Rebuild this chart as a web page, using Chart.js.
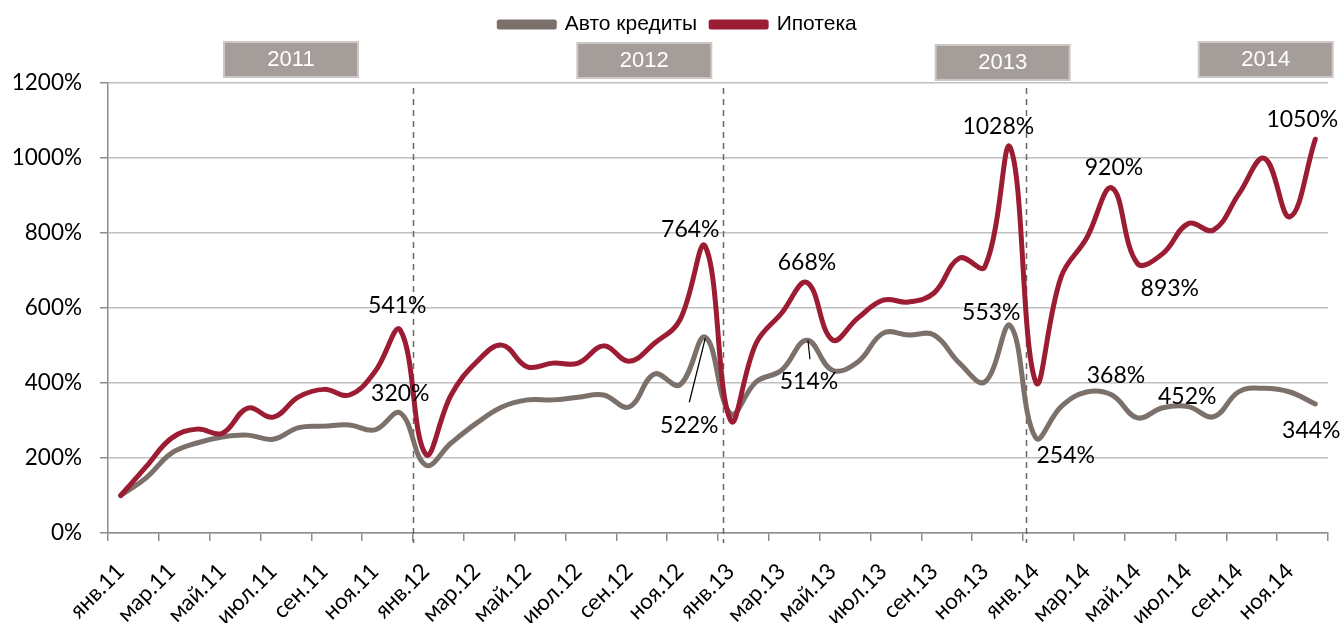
<!DOCTYPE html>
<html>
<head>
<meta charset="utf-8">
<script src="https://cdn.jsdelivr.net/npm/chart.js@4.4.1/dist/chart.umd.min.js"></script>
<style>
  html, body { margin: 0; padding: 0; background: #fff; }
  #wrap { width: 1341px; height: 623px; }
</style>
</head>
<body>
<div id="wrap"><canvas id="myLineChart"></canvas></div>
<script>
// months, Jan 2011 .. Dec 2014
const months = [
  'янв.11', 'фев.11', 'мар.11', 'апр.11', 'май.11', 'июн.11', 'июл.11', 'авг.11', 'сен.11', 'окт.11', 'ноя.11', 'дек.11',
  'янв.12', 'фев.12', 'мар.12', 'апр.12', 'май.12', 'июн.12', 'июл.12', 'авг.12', 'сен.12', 'окт.12', 'ноя.12', 'дек.12',
  'янв.13', 'фев.13', 'мар.13', 'апр.13', 'май.13', 'июн.13', 'июл.13', 'авг.13', 'сен.13', 'окт.13', 'ноя.13', 'дек.13',
  'янв.14', 'фев.14', 'мар.14', 'апр.14', 'май.14', 'июн.14', 'июл.14', 'авг.14', 'сен.14', 'окт.14', 'ноя.14', 'дек.14'
];

// % of Jan 2011 level
const autoLoans = [
  100, 147, 213, 240, 256, 261, 250, 281, 285, 288, 275, 320,
  181, 240, 293, 336, 355, 355, 362, 368, 336, 424, 395, 522,
  318, 403, 434, 514, 434, 456, 533, 528, 528, 453, 403, 553,
  254, 337, 376, 368, 307, 334, 337, 310, 377, 386, 376, 344
];
const mortgage = [
  100, 177, 253, 277, 266, 333, 309, 363, 383, 368, 430, 541,
  210, 368, 456, 501, 443, 453, 453, 499, 458, 506, 568, 764,
  300, 506, 586, 668, 515, 573, 621, 616, 640, 733, 710, 1028,
  403, 683, 786, 920, 719, 745, 825, 808, 905, 999, 843, 1050
];

const years = ['2011', '2012', '2013', '2014'];

const GREY = '#7b706a';
const RED = '#9b1c33';
const FONT = 'Lato, "Open Sans", sans-serif';
const NARROW = '"Liberation Sans Narrow", "Liberation Sans", sans-serif';

// boxes, dividers and value labels that Excel had drawn by hand
const extras = {
  id: 'extras',
  beforeInit(chart) {
    // push the plot down so the year boxes fit under the legend
    const fit = chart.legend.fit;
    chart.legend.fit = function () {
      fit.call(this);
      this.height += chart.options.plugins.extras.legendGap;
    };
  },
  afterLayout(chart, args, opts) {
    // legend sits a little right of centre in the original
    chart.legend.left += opts.legendShift;
    chart.legend.right += opts.legendShift;
  },
  beforeDatasetsDraw(chart, args, opts) {
    const { ctx, chartArea, scales: { x } } = chart;
    ctx.save();
    ctx.strokeStyle = '#6f6763';
    ctx.lineWidth = 1.5;
    ctx.setLineDash([6, 5]);
    opts.dividers.forEach(v => {
      const px = Math.round(x.getPixelForValue(v)) + 0.5;
      ctx.beginPath();
      ctx.moveTo(px, chartArea.top + 5);
      ctx.lineTo(px, chartArea.bottom + 10);
      ctx.stroke();
    });
    ctx.setLineDash([]);

    ctx.font = '22px ' + NARROW;
    ctx.textAlign = 'center';
    ctx.textBaseline = 'middle';
    years.forEach((yr, i) => {
      const b = opts.boxes[i];
      const cx = x.getPixelForValue(b.at);
      const top = chartArea.top + b.dy;
      ctx.fillStyle = '#a59d99';
      ctx.fillRect(cx - 67, top, 134, 35);
      ctx.strokeStyle = '#cdc8c5';
      ctx.lineWidth = 2;
      ctx.strokeRect(cx - 67, top, 134, 35);
      ctx.fillStyle = '#fff';
      ctx.fillText(yr, cx, top + 18);
    });
    ctx.restore();
  },
  afterDatasetsDraw(chart, args, opts) {
    const { ctx } = chart;
    ctx.save();
    ctx.font = '23px ' + FONT;
    ctx.fillStyle = '#000';
    ctx.textAlign = 'center';
    ctx.textBaseline = 'middle';
    opts.callouts.forEach(c => {
      const pt = chart.getDatasetMeta(c.ds).data[c.i];
      if (c.lead) {
        ctx.strokeStyle = '#000';
        ctx.lineWidth = 1.2;
        ctx.beginPath();
        ctx.moveTo(pt.x + c.lead[0], pt.y + c.lead[1]);
        ctx.lineTo(pt.x + c.lead[2], pt.y + c.lead[3]);
        ctx.stroke();
      }
      ctx.fillText(c.text, pt.x + c.dx, pt.y + c.dy);
    });
    ctx.restore();
  }
};

new Chart(document.getElementById('myLineChart'), {
  type: 'line',
  data: {
    labels: months,
    datasets: [{
      label: 'Авто кредиты',
      data: autoLoans,
      borderColor: GREY,
      backgroundColor: GREY,
      order: 1
    }, {
      label: 'Ипотека',
      data: mortgage,
      borderColor: RED,
      backgroundColor: RED,
      order: 0
    }]
  },
  options: {
    responsive: true,
    maintainAspectRatio: false,
    animation: false,
    layout: { padding: { top: 0, left: 0, right: 13, bottom: 0 } },
    elements: {
      line: { borderWidth: 5, tension: 0.4, borderCapStyle: 'round', borderJoinStyle: 'round' },
      point: { radius: 0, hoverRadius: 0 }
    },
    scales: {
      x: {
        offset: true,
        afterFit: s => { s.height = 90; s.paddingLeft = 0; s.paddingRight = 0; },
        border: { color: '#8c8c8c', width: 1.5 },
        grid: {
          offset: true,
          drawOnChartArea: false,
          tickLength: 8,
          lineWidth: 1.5,
          tickColor: c => (c.index === undefined || c.index % 2 === 0) ? '#8c8c8c' : 'rgba(0,0,0,0)'
        },
        ticks: {
          autoSkip: false,
          maxRotation: 45,
          minRotation: 45,
          padding: 17,
          color: '#000',
          font: { family: FONT, size: 22.5 },
          callback: function (val, i) { return i % 2 ? '' : this.getLabelForValue(val); }
        }
      },
      y: {
        min: 0,
        max: 1200,
        afterFit: s => { s.width = 108; },
        border: { color: '#8c8c8c', width: 1.5 },
        grid: {
          color: '#c0c0c0',
          lineWidth: 1.5,
          borderDash: [7, 5],
          tickLength: 8,
          tickColor: '#8c8c8c',
          tickBorderDash: []
        },
        ticks: {
          stepSize: 200,
          padding: 18,
          color: '#000',
          font: { family: FONT, size: 22.5 },
          callback: v => v + '%'
        }
      }
    },
    plugins: {
      tooltip: { enabled: false },
      legend: {
        display: true,
        position: 'top',
        labels: {
          boxWidth: 55,
          boxHeight: 5,
          padding: 14,
          color: '#000',
          font: { family: NARROW, size: 21 },
          sort: (a, b) => a.datasetIndex - b.datasetIndex
        }
      },
      extras: {
        legendGap: 38,
        legendShift: 14,
        dividers: [11.5, 23.7, 35.6],
        boxes: [
          { at: 6.7, dy: -41 },
          { at: 20.6, dy: -40 },
          { at: 34.7, dy: -38 },
          { at: 45.05, dy: -41 }
        ],
        callouts: [
          { ds: 1, i: 11, text: '541%', dx: -3, dy: -25 },
          { ds: 0, i: 11, text: '320%', dx: 0, dy: -19 },
          { ds: 1, i: 23, text: '764%', dx: -15, dy: -17 },
          { ds: 0, i: 23, text: '522%', dx: -16, dy: 88, lead: [0, 1, -16, 65] },
          { ds: 1, i: 27, text: '668%', dx: 0, dy: -20 },
          { ds: 0, i: 27, text: '514%', dx: 2, dy: 41, lead: [1, 0, 3, 19] },
          { ds: 1, i: 35, text: '1028%', dx: -12, dy: -21 },
          { ds: 0, i: 35, text: '553%', dx: -19, dy: -13 },
          { ds: 0, i: 36, text: '254%', dx: 30, dy: 18 },
          { ds: 1, i: 39, text: '920%', dx: 2, dy: -20 },
          { ds: 1, i: 41, text: '893%', dx: 7, dy: 35 },
          { ds: 0, i: 39, text: '368%', dx: 4, dy: -19 },
          { ds: 0, i: 42, text: '452%', dx: -1, dy: -10 },
          { ds: 0, i: 47, text: '344%', dx: -4, dy: 27 },
          { ds: 1, i: 47, text: '1050%', dx: -13, dy: -20 }
        ]
      }
    }
  },
  plugins: [extras]
});
</script>
</body>
</html>
